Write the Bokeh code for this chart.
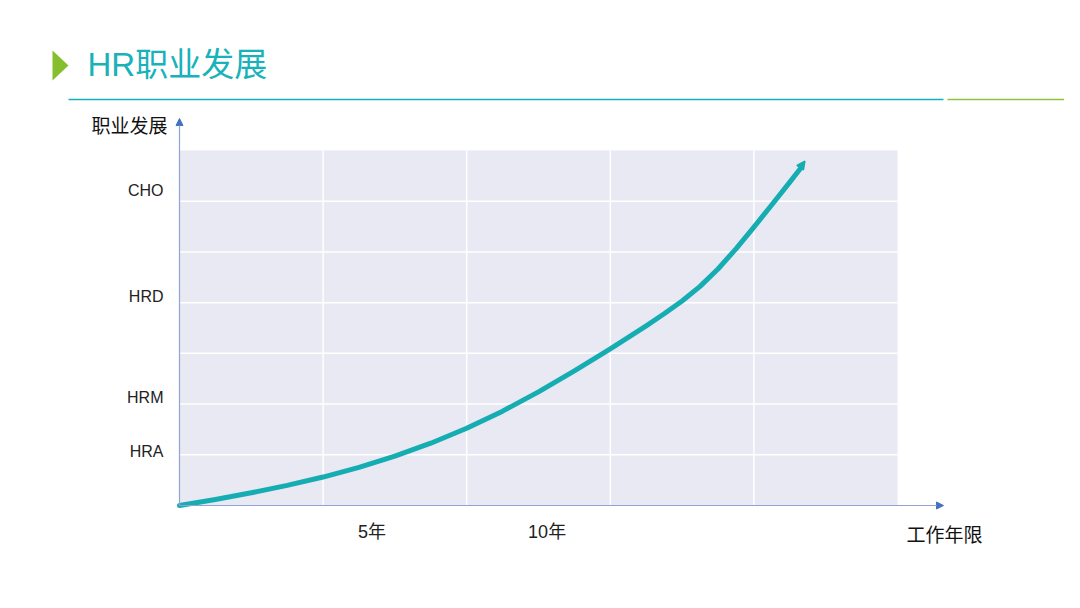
from bokeh.plotting import figure
from bokeh.models import Range1d, Arrow, NormalHead
from bokeh.core.properties import value
from bokeh.embed import file_html
from bokeh.resources import INLINE

# ---- data ----
title_text = "HR职业发展"
y_axis_title = "职业发展"
x_axis_title = "工作年限"
levels = ["HRA", "HRM", "HRD", "CHO"]
level_pos = [1.06, 2.13, 4.12, 6.21]
x_tick_labels = ["5年", "10年"]
x_tick_pos = [1.34, 2.56]
curve_x = [0.0, 0.25, 0.5, 0.75, 1.0, 1.25, 1.5, 1.75, 2.0, 2.25, 2.5, 2.75,
           3.0, 3.25, 3.375, 3.5, 3.625, 3.75, 3.875, 4.0, 4.125, 4.25, 4.32]
curve_y = [0.0, 0.119, 0.250, 0.396, 0.561, 0.751, 0.972, 1.228, 1.522, 1.860,
           2.241, 2.653, 3.088, 3.542, 3.780, 4.033, 4.320, 4.664, 5.061, 5.489,
           5.930, 6.377, 6.63]
n_cols = 5
n_rows = 7

# ---- layout ----
W, H = 1064, 592
GX0, GX1 = 179, 897      # grid left/right (px)
GY0, GY1 = 150, 505      # grid top/bottom (px from top)
sx = (GX1 - GX0) / n_cols
sy = (GY1 - GY0) / n_rows


def px(x, y):
    """pixel -> data coords (for decorations)"""
    return ((x - GX0) / sx, (GY1 - y) / sy)


p = figure(width=W, height=H, output_backend="svg", toolbar_location=None,
           x_range=Range1d(-GX0 / sx, n_cols + (W - GX1) / sx),
           y_range=Range1d(-(H - GY1) / sy, n_rows + GY0 / sy),
           min_border=0)
p.axis.visible = False
p.grid.visible = False
p.outline_line_color = None
p.background_fill_color = "white"
p.border_fill_color = "white"

FONT = value("Liberation Sans, Noto Sans CJK SC")

# grid background
p.quad(left=[0], right=[n_cols], bottom=[0], top=[n_rows],
       fill_color="#e8e9f3", line_color=None)
# gridlines
p.segment(x0=list(range(1, n_cols)), x1=list(range(1, n_cols)),
          y0=[0] * (n_cols - 1), y1=[n_rows] * (n_cols - 1),
          line_color="white", line_width=1.5)
p.segment(x0=[0] * (n_rows - 1), x1=[n_cols] * (n_rows - 1),
          y0=list(range(1, n_rows)), y1=list(range(1, n_rows)),
          line_color="white", line_width=1.5)

# axes with arrows
ax_end_x = px(943, 505)[0]
ax_end_y = px(179, 118)[1]
p.add_layout(Arrow(x_start=0, y_start=0, x_end=ax_end_x, y_end=0,
                   line_color="#8ea3d6", line_width=1.2,
                   end=NormalHead(size=7, fill_color="#4472c4", line_color="#4472c4")))
p.add_layout(Arrow(x_start=0, y_start=0, x_end=0, y_end=ax_end_y,
                   line_color="#8ea3d6", line_width=1.2,
                   end=NormalHead(size=7, fill_color="#4472c4", line_color="#4472c4")))

# curve
p.line(curve_x, curve_y, line_color="#16adb2", line_width=5,
       line_cap="round", line_join="round")
p.add_layout(Arrow(x_start=curve_x[-2], y_start=curve_y[-2],
                   x_end=curve_x[-1] + 0.035, y_end=curve_y[-1] + 0.16,
                   line_color="#16adb2", line_width=5, line_alpha=0,
                   end=NormalHead(size=8, fill_color="#16adb2", line_color="#16adb2",
                                  line_width=1.5)))

# level labels
lx = px(163, 0)[0]
p.text(x=[lx] * len(levels), y=level_pos, text=levels,
       text_align="right", text_baseline="middle",
       text_font=FONT, text_font_size="16px", text_color="#222222")

# x tick labels
ty = px(0, 531)[1]
p.text(x=x_tick_pos, y=[ty] * len(x_tick_pos), text=x_tick_labels,
       text_align="center", text_baseline="middle",
       text_font=FONT, text_font_size="18px", text_color="#222222")

# axis titles
yt = px(129, 126)
p.text(x=[yt[0]], y=[yt[1]], text=[y_axis_title], text_align="center",
       text_baseline="middle", text_font=FONT, text_font_size="19px",
       text_color="#111111")
xt = px(944, 535)
p.text(x=[xt[0]], y=[xt[1]], text=[x_axis_title], text_align="center",
       text_baseline="middle", text_font=FONT, text_font_size="19px",
       text_color="#111111")

# title
tt = px(87, 64)
p.text(x=[tt[0]], y=[tt[1]], text=[title_text], text_align="left",
       text_baseline="middle", text_font=FONT, text_font_size="33px",
       text_color="#17b2ba")

# green triangle
a, b, c = px(52, 50), px(52, 80), px(68, 65)
p.patch([a[0], b[0], c[0]], [a[1], b[1], c[1]], fill_color="#86bf2d", line_color=None)

# rules under title
r0, r1 = px(68, 99), px(943, 99)
p.line([r0[0], r1[0]], [r0[1], r1[1]], line_color="#15b0b8", line_width=1.5)
g0, g1 = px(947, 99), px(1080, 99)
p.line([g0[0], g1[0]], [g0[1], g1[1]], line_color="#8cc63f", line_width=1.5)

open("out.html", "w").write(file_html(p, INLINE))
